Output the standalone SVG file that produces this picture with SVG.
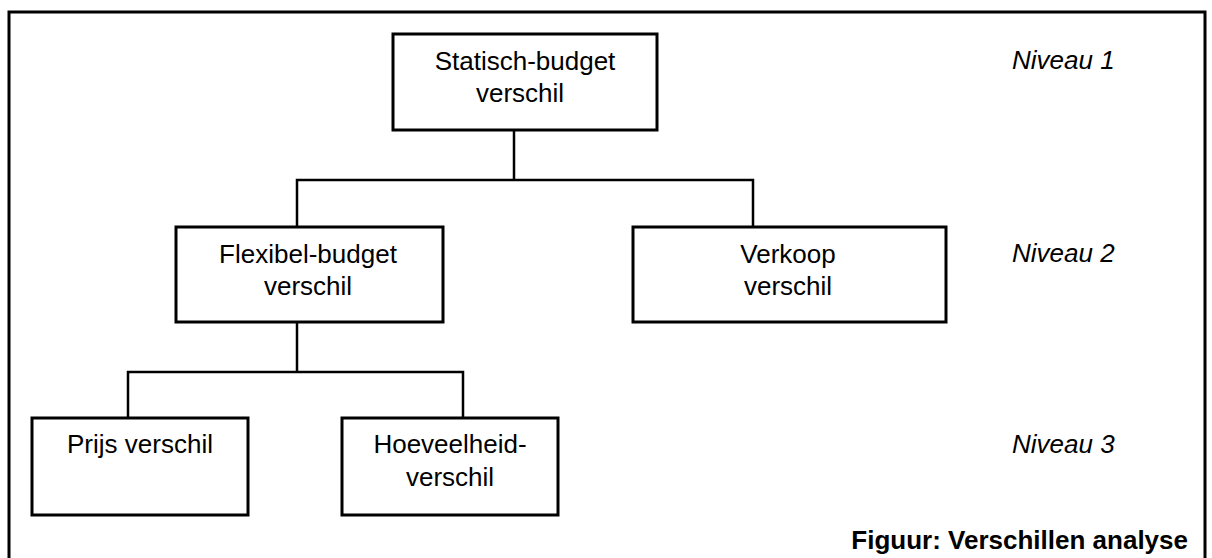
<svg xmlns="http://www.w3.org/2000/svg" width="1212" height="558" viewBox="0 0 1212 558">
<style>
.box{fill:#fff;stroke:#000;stroke-width:3}
.t{font-family:"Liberation Sans",Arial,sans-serif;font-size:26px;fill:#000;text-anchor:middle}
.lvl{font-family:"Liberation Sans",Arial,sans-serif;font-size:26px;font-style:italic;fill:#000}
.cap{font-family:"Liberation Sans",Arial,sans-serif;font-size:26px;font-weight:bold;fill:#000;text-anchor:end}
.c{fill:none;stroke:#000;stroke-width:2.5}
</style>
<rect x="0" y="0" width="1212" height="558" fill="#fff"/>
<rect x="9" y="12" width="1196" height="560" fill="none" stroke="#000" stroke-width="3"/>
<g id="connectors">
<polyline class="c" points="514,130 514,180"/>
<polyline class="c" points="297,227 297,180 753,180 753,227"/>
<polyline class="c" points="297,322 297,372"/>
<polyline class="c" points="128,418 128,372 463,372 463,418"/>
</g>
<g id="n1"><rect class="box" x="393" y="34" width="264" height="96"/>
<text class="t" x="525" y="70">Statisch-budget</text><text class="t" x="520" y="102">verschil</text></g>
<g id="n2"><rect class="box" x="176" y="227" width="267" height="95"/>
<text class="t" x="308" y="263">Flexibel-budget</text><text class="t" x="308" y="295">verschil</text></g>
<g id="n3"><rect class="box" x="633" y="227" width="313" height="95"/>
<text class="t" x="788" y="263">Verkoop</text><text class="t" x="788" y="295">verschil</text></g>
<g id="n4"><rect class="box" x="32" y="418" width="216" height="97"/>
<text class="t" x="140" y="453">Prijs verschil</text></g>
<g id="n5"><rect class="box" x="342" y="418" width="216" height="97"/>
<text class="t" x="450" y="453">Hoeveelheid-</text><text class="t" x="450" y="486">verschil</text></g>
<g id="levels">
<text class="lvl" x="1012" y="69">Niveau 1</text>
<text class="lvl" x="1012" y="262">Niveau 2</text>
<text class="lvl" x="1012" y="453">Niveau 3</text>
</g>
<text class="cap" x="1188" y="549">Figuur: Verschillen analyse</text>
</svg>
